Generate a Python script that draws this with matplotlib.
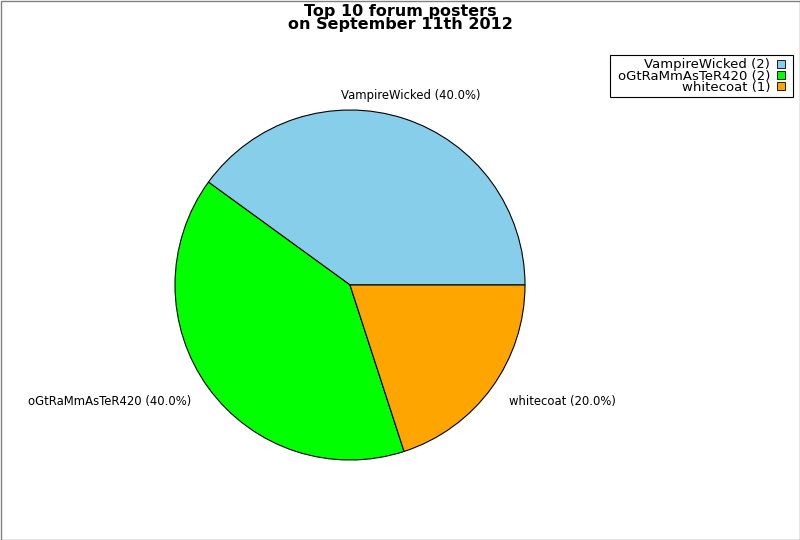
import matplotlib
matplotlib.use("Agg")
import matplotlib.pyplot as plt
from matplotlib.patches import Rectangle

posters = ["VampireWicked", "oGtRaMmAsTeR420", "whitecoat"]
posts = [2, 2, 1]
colors = ["#87CEEB", "#00FF00", "#FFA500"]
title = "Top 10 forum posters\non September 11th 2012"

total = sum(posts)
pie_labels = [f"{n} ({100.0 * v / total:.1f}%)" for n, v in zip(posters, posts)]
legend_labels = [f"{n} ({v})" for n, v in zip(posters, posts)]

fig = plt.figure(figsize=(8, 5.4), dpi=100)
fig.patch.set_facecolor("white")
ax = fig.add_axes([350/800 - 175/800, (540-285)/540 - 175/540, 350/800, 350/540])

wedges, texts = ax.pie(posts, labels=pie_labels, colors=colors, startangle=0,
                       counterclock=True, labeldistance=1.12,
                       wedgeprops=dict(edgecolor="black", linewidth=0.8),
                       textprops=dict(fontsize=8.4))
for t in texts:
    x, y = t.get_position()
    t.set_position((x, y * 1.015))
    if abs(x) < 0.45:
        t.set_ha("center")
ax.set_aspect("equal")
ax.set_xlim(-1, 1)
ax.set_ylim(-1, 1)

fig.text(0.5, 1 - 4/540, title, ha="center", va="top", fontsize=11.5,
         fontweight="bold", linespacing=0.86)

hpad = 5  # extra horizontal padding in pixels for the legend frame
leg = fig.legend(wedges, legend_labels, loc="upper right",
                 bbox_to_anchor=((793 - hpad)/800, 1 - 55/540), borderaxespad=0,
                 markerfirst=False, fontsize=9.5, handlelength=0.55,
                 handleheight=0.55, handletextpad=0.55, labelspacing=-0.12,
                 borderpad=0.25, frameon=False)
for h in leg.legend_handles:
    h.set_edgecolor("black")
    h.set_linewidth(0.6)

fig.canvas.draw()
bb = leg.get_window_extent()
fig.patches.append(Rectangle((bb.x0 - hpad, bb.y0), bb.width + 2 * hpad, bb.height,
                             transform=None, fill=True, facecolor="white",
                             edgecolor="black", linewidth=0.8, zorder=0.5))

fig.patches.append(Rectangle((0.5/800, 0.5/540), 1 - 1/800, 1 - 1/540,
                             transform=fig.transFigure, fill=False,
                             edgecolor="#808080", linewidth=1))

fig.savefig("out.png", dpi=100)
